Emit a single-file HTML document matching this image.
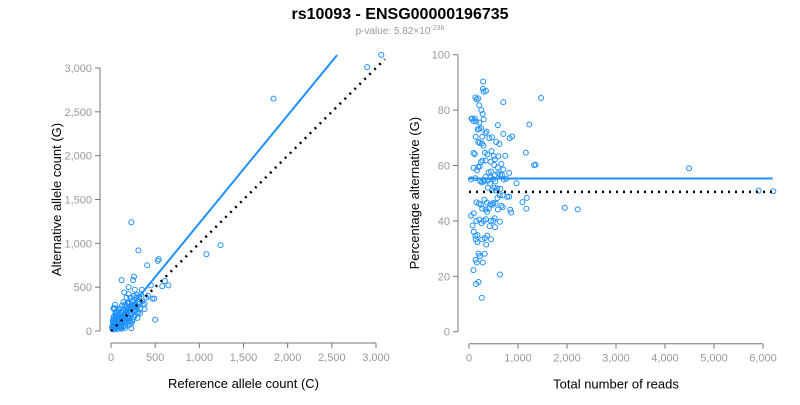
<!DOCTYPE html>
<html><head><meta charset="utf-8"><style>
body{margin:0;background:#fff;width:800px;height:400px;overflow:hidden;font-family:"Liberation Sans",sans-serif}
</style></head><body>
<svg id="chart" width="800" height="400" xmlns="http://www.w3.org/2000/svg" font-family="Liberation Sans, sans-serif">
<text x="400" y="19" text-anchor="middle" font-size="16" font-weight="bold" fill="#000">rs10093 - ENSG00000196735</text>
<text x="400" y="34" text-anchor="middle" font-size="10" fill="#999">p-value: 5.82×10<tspan dy="-4" font-size="7">-236</tspan></text>
<g id="left"></g>
<g id="right"></g>
</svg>
<script>
const refCounts=[3060,2900,1840,1240,1080,230,310,410,540,530,610,650,580,450,500,470,490,120,260,250,200,
12,25,40,33,55,70,18,90,48,110,65,130,85,150,27,100,160,45,75,120,200,58,180,95,140,210,38,170,230,62,105,260,80,190,125,240,150,300,35,115,220,270,88,195,160,310,52,135,245,290,70,175,205,330,100,260,145,280,42,185,215,350,125,235,155,320,68,165,250,380,98,270,190,225,340,112,300,200,130,260,360,80,175,230,290,400,120,210,150,330,95,245,185,275,60,205,320,140,265,105,350,230,170,290,85,255,195,310,420,135,220,160,240,380,115,270,180,200,300,
20,30,40,50,35,25,60,28,45,230,160,120,90,55,70,22,15,38];
const altCounts=[3150,3010,2650,980,875,1240,920,750,820,800,570,520,510,520,130,370,370,580,620,580,500,
40,18,95,60,41,150,22,60,130,95,180,210,45,120,90,260,300,28,110,140,230,72,90,240,330,160,55,270,300,35,170,220,190,150,85,350,190,280,110,55,380,180,130,245,60,330,160,240,130,410,20,210,310,260,35,400,175,300,75,320,110,340,290,200,100,390,95,150,270,310,200,470,260,180,420,60,150,420,110,160,300,70,380,240,250,380,25,70,440,200,150,290,200,360,130,140,310,55,230,125,470,90,230,380,180,340,170,215,400,160,270,35,110,250,210,280,120,330,200,
110,160,260,200,250,130,220,260,300,32,60,40,45,150,230,70,50,170];
const leftXTicks=[0,500,1000,1500,2000,2500,3000];
const leftYTicks=[0,500,1000,1500,2000,2500,3000];
const rightXTicks=[0,1000,2000,3000,4000,5000,6000];
const rightYTicks=[0,20,40,60,80,100];
const fitSlope=[1.23];
const fitPct=[55.3];
const NS="http://www.w3.org/2000/svg";
function mk(p,tag,a){const e=document.createElementNS(NS,tag);for(const k in a)e.setAttribute(k,a[k]);p.appendChild(e);return e;}
function fmt(v){return v.toLocaleString('en-US');}
function axes(g,xs,ys,xt,yt,xl,yl,x0,x1,y0,y1){
  mk(g,'line',{x1:x0-11,x2:x0-11,y1:ys(yt[0]),y2:ys(yt[yt.length-1]),stroke:'#777'});
  yt.forEach(v=>{mk(g,'line',{x1:x0-16,x2:x0-11,y1:ys(v),y2:ys(v),stroke:'#777'});
    const t=mk(g,'text',{x:x0-19,y:ys(v)+4,'text-anchor':'end','font-size':11,fill:'#999'});t.textContent=fmt(v);
    
    });
  mk(g,'line',{x1:xs(xt[0]),x2:xs(xt[xt.length-1]),y1:y0+12,y2:y0+12,stroke:'#777'});
  xt.forEach(v=>{mk(g,'line',{x1:xs(v),x2:xs(v),y1:y0+12,y2:y0+17,stroke:'#777'});
    const t=mk(g,'text',{x:xs(v),y:y0+30,'text-anchor':'middle','font-size':11,fill:'#999'});t.textContent=fmt(v);
    
    });
  const a=mk(g,'text',{x:(xs(xt[0])+xs(xt[xt.length-1]))/2,y:y0+57,'text-anchor':'middle','font-size':13,fill:'#000'});a.textContent=xl;
  
  
  const cy=(ys(yt[0])+ys(yt[yt.length-1]))/2;
  const b=mk(g,'text',{x:x0-50,y:cy,'text-anchor':'middle','font-size':13,fill:'#000',transform:`rotate(-90 ${x0-50} ${cy})`});b.textContent=yl;
  
  
}
const L=document.getElementById('left');
const lx=v=>111+v*265/3000, ly=v=>331-v*263/3000;
axes(L,lx,ly,leftXTicks,leftYTicks,'Reference allele count (C)','Alternative allele count (G)',111,376,331,68);
refCounts.forEach((r,i)=>{const c=mk(L,'circle',{cx:lx(r),cy:ly(altCounts[i]),r:2.5,fill:'none',stroke:'#1e90ff','stroke-width':1});
  
  });
const fl=mk(L,'line',{x1:lx(0),y1:ly(0),x2:lx(2560),y2:ly(2560*fitSlope[0]),stroke:'#1e90ff','stroke-width':2});


const dl=mk(L,'line',{x1:lx(0),y1:ly(0),x2:lx(3100),y2:ly(3100),stroke:'#000','stroke-width':2.5,'stroke-dasharray':'2 5'});


const R=document.getElementById('right');
const rx=v=>469+v*294/6000, ry=v=>331.7-v*277/100;
axes(R,rx,ry,rightXTicks,rightYTicks,'Total number of reads','Percentage alternative (G)',469,763,331.7,54.7);
refCounts.forEach((r,i)=>{const t=r+altCounts[i];const c=mk(R,'circle',{cx:rx(t),cy:ry(altCounts[i]/t*100),r:2.5,fill:'none',stroke:'#1e90ff','stroke-width':1});
  
  });
const fr=mk(R,'line',{x1:rx(0),y1:ry(fitPct[0]),x2:rx(6200),y2:ry(fitPct[0]),stroke:'#1e90ff','stroke-width':2});


const dr=mk(R,'line',{x1:rx(0),y1:ry(50.5),x2:rx(6200),y2:ry(50.5),stroke:'#000','stroke-width':2.5,'stroke-dasharray':'2 5'});


</script>
</body></html>
